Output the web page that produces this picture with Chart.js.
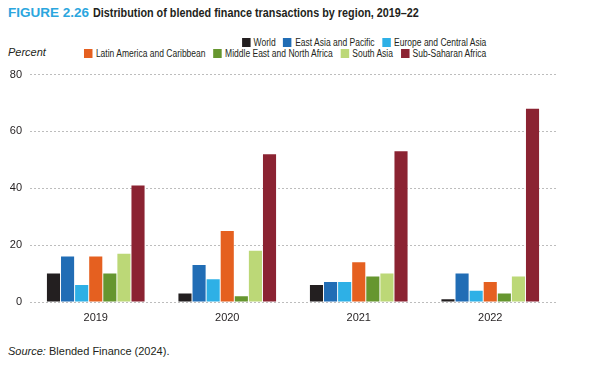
<!DOCTYPE html>
<html>
<head>
<meta charset="utf-8">
<script src="https://cdn.jsdelivr.net/npm/chart.js@4"></script>
<style>
	body { margin: 0; width: 595px; height: 367px; background: #fff; position: relative; font-family: "Liberation Sans", Arial, sans-serif; color: #231f20; overflow: hidden; }
	#title { position: absolute; left: 8px; top: 5px; font-size: 13.5px; font-weight: bold; white-space: nowrap; }
	#title .fig { color: #2ba6de; }
	#title .txt { display: inline-block; transform: scaleX(0.8); transform-origin: left center; }
	#unit { position: absolute; left: 8px; top: 46px; font-size: 11px; font-style: italic; }
	#legend { position: absolute; right: 109px; top: 37px; font-size: 10px; transform: scaleX(0.85); transform-origin: right center; }
	.row { display: flex; justify-content: flex-end; height: 11px; line-height: 11px; }
	.item { display: flex; align-items: center; margin-left: 9px; white-space: nowrap; }
	.box { width: 10px; height: 9px; margin-right: 4px; }
	#source { position: absolute; left: 8px; top: 345px; font-size: 11px; }
	#wrap { position: absolute; left: 0; top: 60px; width: 556px; height: 272px; }
</style>
</head>
<body>
<div id="title"><span class="fig">FIGURE 2.26</span> <span class="txt">Distribution of blended finance transactions by region, 2019–22</span></div>
<div id="unit">Percent</div>
<div id="legend"></div>
<div id="wrap"><canvas id="chart"></canvas></div>
<div id="source"><i>Source:</i> Blended Finance (2024).</div>
<script>
	const years = ['2019', '2020', '2021', '2022'];
	const regions = ['World', 'East Asia and Pacific', 'Europe and Central Asia', 'Latin America and Caribbean', 'Middle East and North Africa', 'South Asia', 'Sub-Saharan Africa'];
	const colors = ['#231f20', '#216db5', '#2eb0e6', '#e56020', '#66962f', '#bcd877', '#8b2332'];

	const world = [10, 3, 6, 1];
	const eastAsia = [16, 13, 7, 10];
	const europe = [6, 8, 7, 4];
	const latinAmerica = [16, 25, 14, 7];
	const middleEast = [10, 2, 9, 3];
	const southAsia = [17, 18, 10, 9];
	const subSaharan = [41, 52, 53, 68];
	const yTicks = [0, 20, 40, 60, 80];

	const series = [world, eastAsia, europe, latinAmerica, middleEast, southAsia, subSaharan];

	// legend in two rows like the original
	const legendRows = [[0, 1, 2], [3, 4, 5, 6]];
	const legend = document.getElementById('legend');
	legendRows.forEach(r => {
		let row = document.createElement('div');
		row.className = 'row';
		r.forEach(i => {
			row.innerHTML += '<div class="item"><div class="box" style="background:' + colors[i] + '"></div>' + regions[i] + '</div>';
		});
		legend.appendChild(row);
	});

	let data = {
		labels: years,
		datasets: series.map((values, i) => ({
			label: regions[i],
			data: values,
			backgroundColor: colors[i],
			barPercentage: 0.93,
			categoryPercentage: 0.75,
		}))
	};

	let options = {
		responsive: true,
		maintainAspectRatio: false,
		animation: false,
		layout: { padding: { top: 9, right: 0, left: 0, bottom: 0 } },
		plugins: {
			legend: { display: false },
			tooltip: { enabled: false },
		},
		scales: {
			x: {
				grid: { display: false, drawTicks: false },
				border: { display: false },
				ticks: { color: '#231f20', font: { family: 'Liberation Sans', size: 11 }, padding: 9 },
				afterFit: s => { s.height = 30; },
			},
			y: {
				min: 0,
				max: 80,
				afterBuildTicks: s => { s.ticks = yTicks.map(v => ({ value: v })); },
				grid: { color: '#bdbdbd', drawTicks: false, lineWidth: 1 },
				border: { display: false, dash: [2, 2] },
				ticks: { color: '#231f20', font: { family: 'Liberation Sans', size: 11 }, padding: 8 },
				afterFit: s => { s.width = 30; },
			}
		}
	};

	new Chart(document.getElementById('chart').getContext('2d'), {
		type: 'bar',
		data: data,
		options: options
	});
</script>
</body>
</html>
